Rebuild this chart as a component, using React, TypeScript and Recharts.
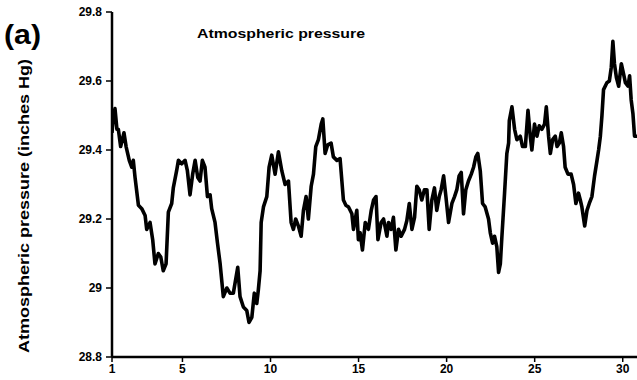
import { LineChart, Line, XAxis, YAxis } from 'recharts';

// day of month (x) and barometric reading in inches Hg (y)
const days = [
    1.0, 1.08, 1.17, 1.28, 1.36, 1.49, 1.68, 1.8, 1.98, 2.12, 2.21, 2.31, 2.5, 2.69, 2.88, 2.97,
    3.16, 3.31, 3.44, 3.63, 3.77, 3.91, 4.07, 4.2, 4.39, 4.48, 4.67, 4.77, 4.96, 5.15, 5.28, 5.43,
    5.58, 5.72, 5.87, 6.0, 6.13, 6.28, 6.42, 6.57, 6.66, 6.85, 6.99, 7.14, 7.32, 7.52, 7.7, 7.89,
    8.14, 8.27, 8.46, 8.65, 8.78, 8.94, 9.08, 9.22, 9.31, 9.41, 9.47, 9.6, 9.79, 9.92, 10.07, 10.26,
    10.45, 10.64, 10.83, 11.02, 11.17, 11.3, 11.43, 11.58, 11.74, 11.87, 12.02, 12.15, 12.31, 12.44,
    12.57, 12.72, 12.88, 12.97, 13.1, 13.25, 13.44, 13.57, 13.77, 13.95, 14.14, 14.28, 14.43, 14.62,
    14.71, 14.9, 14.99, 15.09, 15.22, 15.38, 15.56, 15.72, 15.85, 15.99, 16.1, 16.28, 16.42, 16.61,
    16.7, 16.85, 16.98, 17.12, 17.27, 17.42, 17.61, 17.74, 17.88, 18.03, 18.18, 18.31, 18.44, 18.59,
    18.74, 18.88, 19.01, 19.16, 19.31, 19.44, 19.58, 19.69, 19.83, 19.96, 20.11, 20.3, 20.45, 20.58,
    20.71, 20.83, 20.96, 21.09, 21.24, 21.4, 21.53, 21.66, 21.77, 21.91, 22.04, 22.19, 22.38, 22.48,
    22.61, 22.72, 22.85, 22.95, 23.05, 23.14, 23.29, 23.42, 23.52, 23.56, 23.71, 23.86, 23.99, 24.18,
    24.31, 24.47, 24.62, 24.75, 24.84, 24.99, 25.13, 25.26, 25.41, 25.56, 25.66, 25.79, 25.89, 26.02,
    26.17, 26.27, 26.4, 26.51, 26.64, 26.73, 26.89, 27.07, 27.21, 27.34, 27.49, 27.59, 27.68, 27.84,
    27.97, 28.1, 28.25, 28.4, 28.54, 28.63, 28.73, 28.82, 28.91, 29.1, 29.24, 29.35, 29.44, 29.53,
    29.64, 29.77, 29.92, 30.05, 30.15, 30.3, 30.39, 30.48, 30.58, 30.67, 30.81
];

const pressure = [
    29.45, 29.5, 29.52, 29.46, 29.46, 29.41, 29.45, 29.41, 29.37, 29.35, 29.37, 29.32, 29.24, 29.23, 29.21, 29.17,
    29.19, 29.14, 29.07, 29.1, 29.09, 29.05, 29.07, 29.22, 29.245, 29.29, 29.34, 29.37, 29.36, 29.37, 29.34, 29.27,
    29.33, 29.37, 29.32, 29.31, 29.37, 29.35, 29.265, 29.27, 29.23, 29.19, 29.13, 29.07, 28.975, 29.0, 28.985, 28.985,
    29.06, 28.975, 28.945, 28.935, 28.9, 28.915, 28.985, 28.955, 28.995, 29.05, 29.19, 29.235, 29.265, 29.35, 29.385, 29.33,
    29.395, 29.34, 29.3, 29.31, 29.19, 29.17, 29.2, 29.18, 29.15, 29.225, 29.265, 29.2, 29.295, 29.33,
    29.41, 29.43, 29.475, 29.49, 29.39, 29.415, 29.42, 29.38, 29.37, 29.375, 29.255, 29.24, 29.235, 29.215,
    29.17, 29.225, 29.14, 29.16, 29.11, 29.19, 29.17, 29.225, 29.255, 29.265, 29.14, 29.19, 29.2, 29.15,
    29.19, 29.17, 29.205, 29.11, 29.17, 29.15, 29.17, 29.195, 29.245, 29.17, 29.205, 29.295, 29.285, 29.255,
    29.285, 29.285, 29.17, 29.255, 29.29, 29.225, 29.265, 29.285, 29.325, 29.265, 29.19, 29.245, 29.265, 29.285,
    29.325, 29.335, 29.215, 29.285, 29.31, 29.33, 29.35, 29.38, 29.39, 29.34, 29.245, 29.235, 29.2, 29.16,
    29.13, 29.15, 29.12, 29.045, 29.07, 29.15, 29.275, 29.39, 29.42, 29.485, 29.525, 29.46, 29.43, 29.44,
    29.41, 29.41, 29.515, 29.44, 29.4, 29.475, 29.44, 29.47, 29.46, 29.475, 29.525, 29.44, 29.39, 29.43,
    29.44, 29.41, 29.42, 29.45, 29.41, 29.35, 29.33, 29.33, 29.3, 29.245, 29.275, 29.255, 29.235, 29.18,
    29.225, 29.245, 29.265, 29.325, 29.37, 29.4, 29.44, 29.5, 29.575, 29.595, 29.6, 29.64, 29.715, 29.65,
    29.61, 29.585, 29.65, 29.62, 29.595, 29.585, 29.615, 29.545, 29.505, 29.44, 29.44
];

const xTicks = [1, 5, 10, 15, 20, 25, 30];
const yTicks = [28.8, 29, 29.2, 29.4, 29.6, 29.8];

const panelTag = '(a)';
const title = 'Atmospheric pressure';
const yTitle = 'Atmospheric pressure (inches Hg)';

const FONT = '"Liberation Sans", Arial, sans-serif';

export default function App() {
    const data = days.map((d, i) => ({ day: d, p: pressure[i] }));
    const tickStyle = { fill: '#000', fontSize: 12, fontWeight: 700, fontFamily: FONT };

    return (
        <div style={{ position: 'absolute', left: 0, top: 0, width: 637, height: 380, background: '#fff' }}>
            <LineChart width={637} height={380} data={data} margin={{ top: 12, right: 0, left: 0, bottom: 0 }}>
                <XAxis
                    type="number"
                    dataKey="day"
                    domain={[1, 30.81]}
                    ticks={xTicks}
                    height={23}
                    tickSize={5}
                    tickMargin={2}
                    axisLine={{ stroke: '#000', strokeWidth: 2.5 }}
                    tickLine={{ stroke: '#000', strokeWidth: 1.5 }}
                    tick={tickStyle}
                    allowDataOverflow
                />
                <YAxis
                    type="number"
                    domain={[28.8, 29.8]}
                    ticks={yTicks}
                    width={112}
                    tickSize={6}
                    tickMargin={4}
                    axisLine={{ stroke: '#000', strokeWidth: 2.5 }}
                    tickLine={{ stroke: '#000', strokeWidth: 1.5 }}
                    tick={tickStyle}
                    tickFormatter={(v: number) => String(v)}
                    allowDataOverflow
                />
                <Line
                    type="linear"
                    dataKey="p"
                    stroke="#000"
                    strokeWidth={3.6}
                    strokeLinejoin="round"
                    dot={false}
                    isAnimationActive={false}
                />
            </LineChart>
            <svg
                width={637}
                height={380}
                style={{ position: 'absolute', left: 0, top: 0, pointerEvents: 'none' }}
                fontFamily={FONT}
                fontWeight={700}
            >
                <text x={4} y={44} fontSize={27} textLength={37} lengthAdjust="spacingAndGlyphs">{panelTag}</text>
                <text x={197} y={38} fontSize={13} textLength={168} lengthAdjust="spacingAndGlyphs">{title}</text>
                <text
                    transform="translate(29, 206) rotate(-90)"
                    textAnchor="middle"
                    fontSize={14}
                    textLength={294}
                    lengthAdjust="spacingAndGlyphs"
                >
                    {yTitle}
                </text>
            </svg>
        </div>
    );
}
